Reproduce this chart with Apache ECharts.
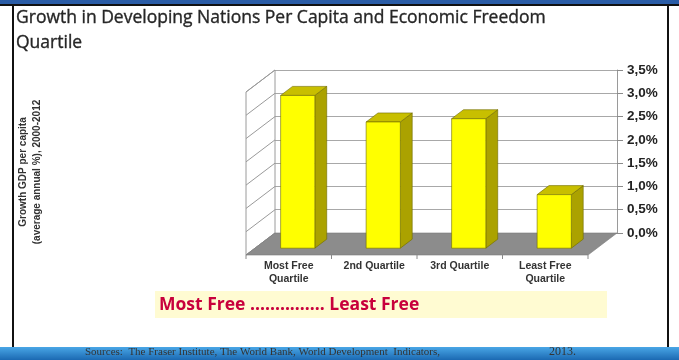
<!DOCTYPE html>
<html>
<head>
<meta charset="utf-8">
<script src="https://cdn.jsdelivr.net/npm/echarts@6/dist/echarts.min.js"></script>
<style>
  html, body { margin: 0; padding: 0; background: #fff; }
  #chart { width: 679px; height: 360px; }
</style>
</head>
<body>
<div id="chart"></div>
<script>
// ---- data ----
const categories = ['Most Free\nQuartile', '2nd Quartile', '3rd Quartile', 'Least Free\nQuartile'];
const growth = [3.28, 2.71, 2.78, 1.15];           // average annual %, 2000-2012
const axisTicks = [0, 0.5, 1, 1.5, 2, 2.5, 3, 3.5];
const titleLines = ['Growth in Developing Nations Per Capita and Economic Freedom', 'Quartile'];
const axisName = ['Growth GDP per capita', '(average annual %), 2000-2012'];
const banner = 'Most Free ............... Least Free';
const source = 'Sources:  The Fraser Institute, The World Bank, World Development  Indicators,';
const sourceYear = '2013.';

// ---- 3D look: oblique depth from the back wall to the front edge of the floor ----
const DEPTH_X = -29, DEPTH_Y = 22;
const BAR_FRONT = 0.69, BAR_BACK = 0.28;   // where the bar faces sit along the depth
const BAR_WIDTH = 0.4;                      // share of a category band

const chart = echarts.init(document.getElementById('chart'), null, { renderer: 'canvas' });

function fmtPct(v) { return v.toFixed(1).replace('.', ',') + '%'; }

const arial = 'Liberation Sans, Arial, sans-serif';
const serif = 'Liberation Serif, Times New Roman, serif';
const sans = 'Open Sans, Lato, sans-serif';

// floor, side wall and category labels
function renderRoom(params, api) {
  const band = api.size([1, 0])[0];
  const left = api.coord([0, 0])[0] - band / 2;
  const right = api.coord([categories.length - 1, 0])[0] + band / 2;
  const y0 = api.coord([0, 0])[1];
  const yTop = api.coord([0, axisTicks[axisTicks.length - 1]])[1];
  const children = [];
  children.push({
    type: 'polygon',
    shape: { points: [[left, yTop], [left, y0], [left + DEPTH_X, y0 + DEPTH_Y], [left + DEPTH_X, yTop + DEPTH_Y]] },
    style: { fill: '#ffffff', stroke: '#9a9a9a', lineWidth: 1 }
  });
  axisTicks.forEach(function (t) {
    const y = api.coord([0, t])[1];
    children.push({
      type: 'line',
      shape: { x1: left, y1: y, x2: left + DEPTH_X, y2: y + DEPTH_Y },
      style: { stroke: '#9a9a9a', lineWidth: 1 }
    });
  });
  children.push({
    type: 'polygon',
    shape: { points: [[left, y0], [right, y0], [right + DEPTH_X, y0 + DEPTH_Y], [left + DEPTH_X, y0 + DEPTH_Y]] },
    style: { fill: '#8c8c8c', stroke: '#7a7a7a', lineWidth: 0.6 }
  });
  for (let k = 0; k <= categories.length; k++) {
    const x = left + DEPTH_X + k * band;
    children.push({
      type: 'line',
      shape: { x1: x, y1: y0 + DEPTH_Y, x2: x, y2: y0 + DEPTH_Y + 4 },
      style: { stroke: '#8a8a8a', lineWidth: 1 }
    });
  }
  categories.forEach(function (c, i) {
    const x = api.coord([i, 0])[0] + DEPTH_X;
    children.push({
      type: 'text',
      style: {
        text: c, x: x, y: y0 + DEPTH_Y + 5,
        textAlign: 'center', textVerticalAlign: 'top',
        fontFamily: arial, fontWeight: 'bold', fontSize: 10.5, lineHeight: 13,
        fill: '#333333'
      }
    });
  });
  return { type: 'group', children: children };
}

// one 3D column: side, top and front faces
function renderBar(params, api) {
  const i = api.value(0), v = api.value(1);
  const base = api.coord([i, 0]);
  const top = api.coord([i, v]);
  const w = api.size([1, 0])[0] * BAR_WIDTH;
  const xl = base[0] + DEPTH_X * BAR_FRONT - w / 2;
  const xr = xl + w;
  const yb = base[1] + DEPTH_Y * BAR_FRONT;
  const yt = top[1] + DEPTH_Y * BAR_FRONT;
  const dx = DEPTH_X * (BAR_BACK - BAR_FRONT);
  const dy = DEPTH_Y * (BAR_BACK - BAR_FRONT);
  const edge = { stroke: '#6f6a00', lineWidth: 0.6 };
  return {
    type: 'group',
    children: [
      { type: 'polygon', shape: { points: [[xr, yt], [xr + dx, yt + dy], [xr + dx, yb + dy], [xr, yb]] },
        style: Object.assign({ fill: '#aba200' }, edge) },
      { type: 'polygon', shape: { points: [[xl, yt], [xl + dx, yt + dy], [xr + dx, yt + dy], [xr, yt]] },
        style: Object.assign({ fill: '#c8bf00' }, edge) },
      { type: 'polygon', shape: { points: [[xl, yt], [xr, yt], [xr, yb], [xl, yb]] },
        style: Object.assign({ fill: '#ffff00' }, edge) }
    ]
  };
}

chart.setOption({
  animation: false,
  backgroundColor: '#ffffff',
  grid: { left: 275, right: 62, top: 70, bottom: 127 },
  xAxis: {
    type: 'category', data: categories,
    axisLine: { show: false }, axisTick: { show: false }, axisLabel: { show: false }, splitLine: { show: false }
  },
  yAxis: {
    type: 'value', position: 'right', min: 0, max: 3.5, interval: 0.5,
    axisLine: { show: true, lineStyle: { color: '#9a9a9a', width: 1 } },
    axisTick: { show: true, length: 6, lineStyle: { color: '#8a8a8a' } },
    axisLabel: {
      margin: 10, formatter: fmtPct, color: '#222222',
      fontFamily: arial, fontWeight: 'bold', fontSize: 13.5
    },
    splitLine: { show: true, lineStyle: { color: '#a8a8a8', width: 1 } }
  },
  series: [
    { type: 'custom', name: 'room', renderItem: renderRoom, data: [[0, 0]], clip: false, silent: true, z: 1 },
    { type: 'custom', name: 'growth', renderItem: renderBar,
      data: growth.map(function (v, i) { return [i, v]; }), clip: false, silent: true, z: 2 }
  ],
  graphic: [
    // slide frame
    { type: 'rect', shape: { x: 0, y: 0, width: 679, height: 5 }, style: { fill: '#2a5ca6' }, z: 10 },
    { type: 'rect', shape: { x: 0, y: 4, width: 679, height: 2 }, style: { fill: '#111111' }, z: 10 },
    { type: 'rect', shape: { x: 12, y: 5, width: 2, height: 343 }, style: { fill: '#111111' }, z: 10 },
    { type: 'rect', shape: { x: 667, y: 5, width: 2, height: 343 }, style: { fill: '#111111' }, z: 10 },
    { type: 'rect', shape: { x: 0, y: 347, width: 679, height: 13 },
      style: { fill: new echarts.graphic.LinearGradient(0, 0, 0, 1, [
        { offset: 0, color: '#49a6e6' }, { offset: 1, color: '#1b69b2' }]) }, z: 10 },
    // title
    { type: 'text', x: 16, y: 18, z: 10,
      style: { text: titleLines[0], textVerticalAlign: 'middle', fontFamily: sans, fontSize: 17.5, fill: '#262626',
        stroke: '#262626', lineWidth: 0.35 } },
    { type: 'text', x: 16, y: 43, z: 10,
      style: { text: titleLines[1], textVerticalAlign: 'middle', fontFamily: sans, fontSize: 17.5, fill: '#262626',
        stroke: '#262626', lineWidth: 0.35 } },
    // value axis name
    { type: 'text', x: 23, y: 172, rotation: Math.PI / 2, z: 10,
      style: { text: axisName[0], textAlign: 'center', textVerticalAlign: 'middle',
        fontFamily: arial, fontWeight: 'bold', fontSize: 10, fill: '#333333' } },
    { type: 'text', x: 37, y: 172, rotation: Math.PI / 2, z: 10,
      style: { text: axisName[1], textAlign: 'center', textVerticalAlign: 'middle',
        fontFamily: arial, fontWeight: 'bold', fontSize: 10, fill: '#333333' } },
    // banner
    { type: 'rect', shape: { x: 155, y: 291, width: 452, height: 27 }, style: { fill: '#fffbd2' }, z: 9 },
    { type: 'text', x: 159, y: 305, z: 10,
      style: { text: banner, textVerticalAlign: 'middle', fontFamily: sans, fontWeight: 'bold', fontSize: 17.5, fill: '#c8003c' } },
    // sources
    { type: 'text', x: 85, y: 352, z: 11,
      style: { text: source, textVerticalAlign: 'middle', fontFamily: serif, fontSize: 11, fill: '#333333' } },
    { type: 'text', x: 549, y: 352, z: 11,
      style: { text: sourceYear, textVerticalAlign: 'middle', fontFamily: serif, fontSize: 12, fill: '#333333' } }
  ]
});
</script>
</body>
</html>
